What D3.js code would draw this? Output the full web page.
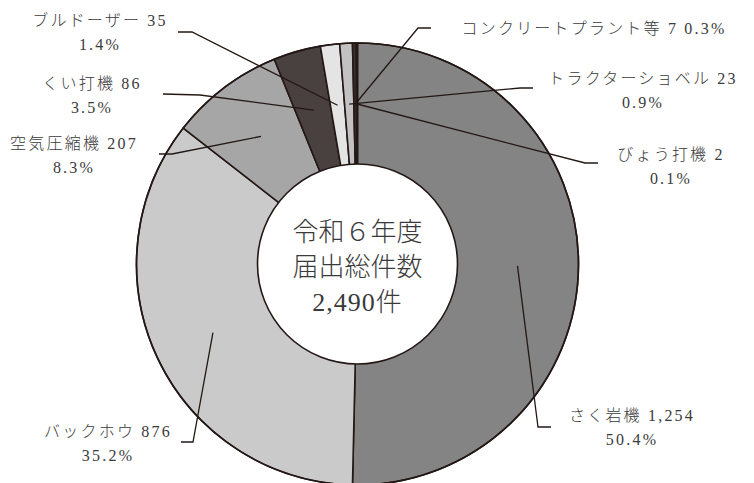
<!DOCTYPE html>
<html>
<head>
<meta charset="utf-8">
<script src="https://cdn.jsdelivr.net/npm/d3@7"></script>
<style>
  html, body { margin: 0; padding: 0; background: #fff; }
  svg { display: block; }
  text { font-family: "Liberation Serif", "Noto Sans CJK JP", sans-serif; font-weight: 300; fill: #3a3a3a; }
</style>
</head>
<body>
<svg id="chart" width="754" height="483"></svg>
<script>
// ---- data ----
const names = ["さく岩機", "バックホウ", "空気圧縮機", "くい打機", "ブルドーザー", "トラクターショベル", "コンクリートプラント等", "びょう打機"];
const values = [1254, 876, 207, 86, 35, 23, 7, 2];
const valueLabels = ["1,254", "876", "207", "86", "35", "23", "7", "2"];
const percents = ["50.4%", "35.2%", "8.3%", "3.5%", "1.4%", "0.9%", "0.3%", "0.1%"];
const centerLines = ["令和６年度", "届出総件数", "2,490件"];

// ---- styling / layout (separate from data) ----
const colors = ["#848484", "#c9cac9", "#a6a6a6", "#48413f", "#e4e4e4", "#c2c2c2", "#3a302e", "#3a302e"];
const W = 754, H = 483;
const cx = 357.5, cy = 264, rOuter = 221, rInner = 100, rLeader = 160;
// label anchor (text centre x, first line y), leader elbow and leader end
const labelLayout = [
  { x: 632, y: 415, elbow: [538, 427], end: [551, 427], oneLine: false },
  { x: 108, y: 431, elbow: [193, 442], end: [181, 442], oneLine: false },
  { x: 74,  y: 143, elbow: [172, 154], end: [159, 154], oneLine: false },
  { x: 92,  y: 83,  elbow: [200, 95],  end: [163, 94],  oneLine: false },
  { x: 100, y: 20,  elbow: [192, 32],  end: [178, 32],  oneLine: false },
  { x: 643, y: 78,  elbow: [520, 88],  end: [533, 88],  oneLine: false },
  { x: 594, y: 28,  elbow: [418, 28],  end: [431, 28],  oneLine: true },
  { x: 671, y: 154, elbow: [585, 163], end: [598, 163], oneLine: false }
];

const svg = d3.select("#chart");
const g = svg.append("g").attr("transform", `translate(${cx},${cy})`);

const pie = d3.pie().sort(null).value(d => d)(values);
const arc = d3.arc().innerRadius(0).outerRadius(rOuter);
const leaderArc = d3.arc().innerRadius(rLeader).outerRadius(rLeader);

g.selectAll("path.slice")
  .data(pie)
  .join("path")
  .attr("class", "slice")
  .attr("d", arc)
  .attr("fill", (d, i) => colors[i])
  .attr("stroke", "#231815")
  .attr("stroke-width", 1.6)
  .attr("stroke-linejoin", "round");

// outer ring border
g.append("circle").attr("r", rOuter).attr("fill", "none")
  .attr("stroke", "#231815").attr("stroke-width", 1.6);

// leader lines
const line = d3.line();
svg.append("g").selectAll("path.leader")
  .data(pie)
  .join("path")
  .attr("class", "leader")
  .attr("d", (d, i) => {
    const c = leaderArc.centroid(d);
    const L = labelLayout[i];
    return line([[c[0] + cx, c[1] + cy], L.elbow, L.end]);
  })
  .attr("fill", "none")
  .attr("stroke", "#231815")
  .attr("stroke-width", 1.3);

// centre hole
g.append("circle").attr("r", rInner).attr("fill", "#fff")
  .attr("stroke", "#231815").attr("stroke-width", 1.6);

// centre text
g.selectAll("text.center")
  .data(centerLines)
  .join("text")
  .attr("class", "center")
  .attr("x", 0)
  .attr("y", (d, i) => -32 + i * 35)
  .attr("text-anchor", "middle")
  .attr("dominant-baseline", "central")
  .attr("font-size", 26)
  .attr("letter-spacing", (d, i) => i === 2 ? 1 : 0)
  .text(d => d);

// labels
const labels = svg.append("g").selectAll("g.label")
  .data(pie)
  .join("g")
  .attr("class", "label");

labels.each(function(d, i) {
  const L = labelLayout[i];
  const sel = d3.select(this);
  if (L.oneLine) {
    sel.append("text")
      .attr("x", L.x).attr("y", L.y)
      .attr("text-anchor", "middle")
      .attr("dominant-baseline", "central")
      .attr("font-size", 16)
      .attr("letter-spacing", 2.2)
      .text(`${names[i]} ${valueLabels[i]} ${percents[i]}`);
  } else {
    sel.append("text")
      .attr("x", L.x).attr("y", L.y)
      .attr("text-anchor", "middle")
      .attr("dominant-baseline", "central")
      .attr("font-size", 16)
      .attr("letter-spacing", 2.2)
      .text(`${names[i]} ${valueLabels[i]}`);
    sel.append("text")
      .attr("x", L.x).attr("y", L.y + 24)
      .attr("text-anchor", "middle")
      .attr("dominant-baseline", "central")
      .attr("font-size", 16)
      .attr("letter-spacing", 2.2)
      .text(percents[i]);
  }
});
</script>
</body>
</html>
